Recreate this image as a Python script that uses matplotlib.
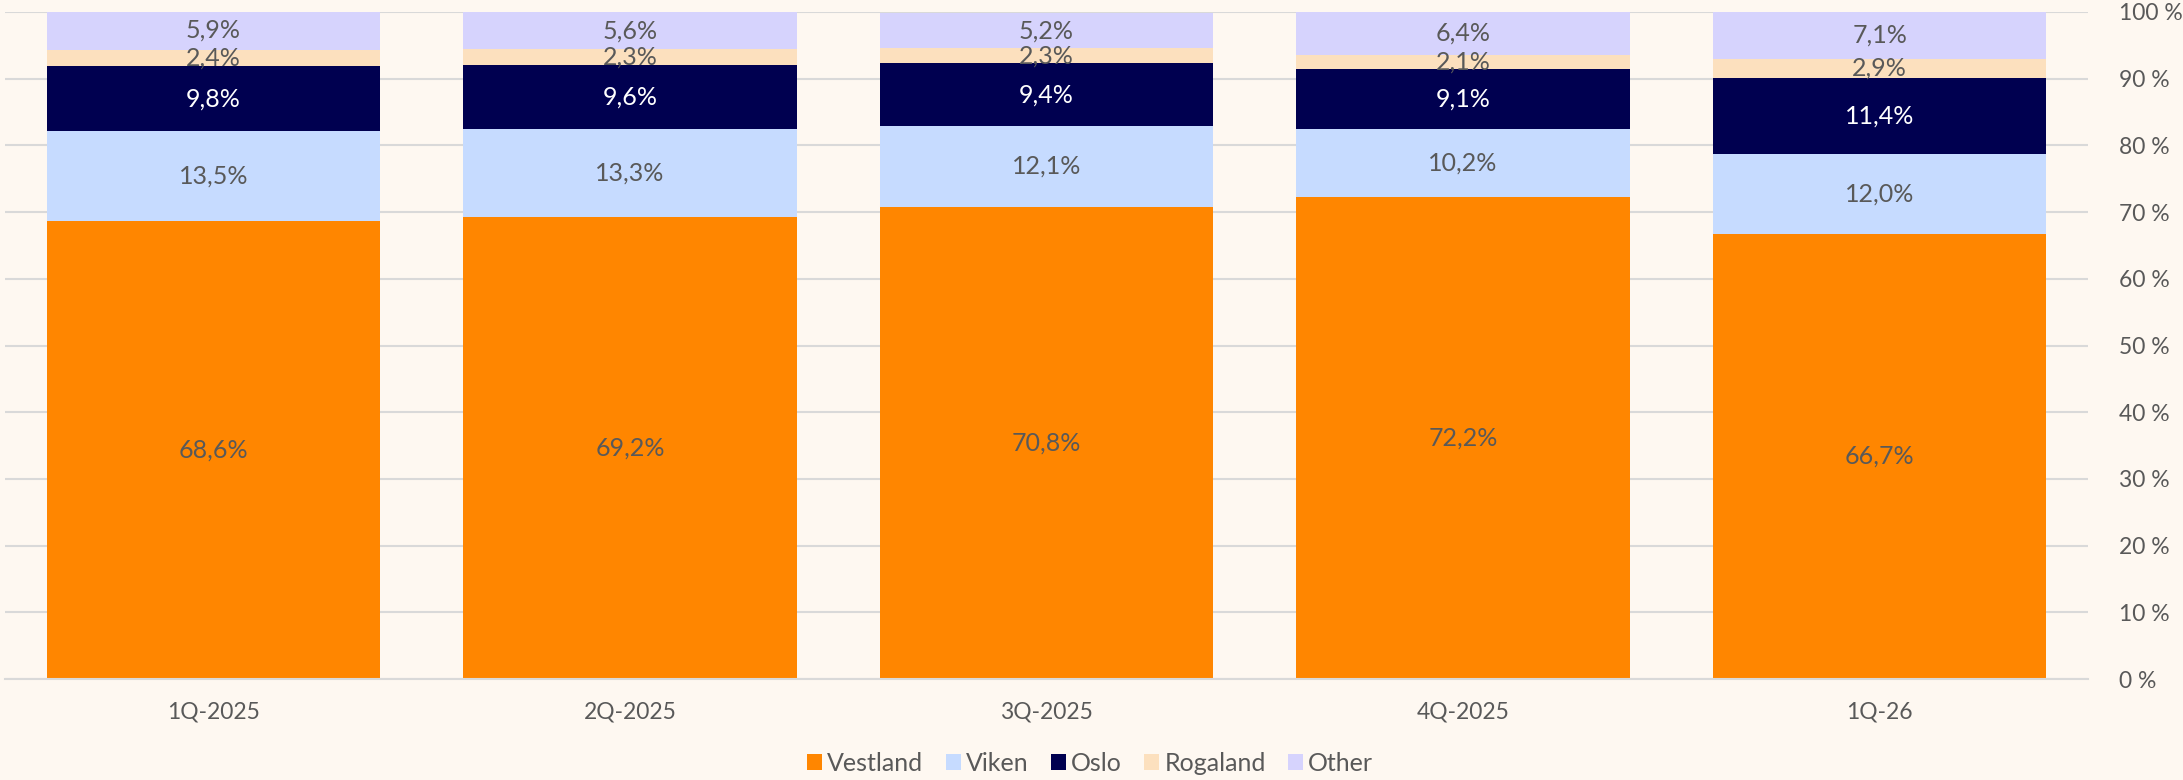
import numpy as np
import matplotlib.pyplot as plt
from matplotlib.ticker import FuncFormatter

plt.rcParams['font.family'] = ['Lato', 'DejaVu Sans']

# data
quarters = ["1Q-2025", "2Q-2025", "3Q-2025", "4Q-2025", "1Q-26"]
vestland = [68.6, 69.2, 70.8, 72.2, 66.7]
viken = [13.5, 13.3, 12.1, 10.2, 12.0]
oslo = [9.8, 9.6, 9.4, 9.1, 11.4]
rogaland = [2.4, 2.3, 2.3, 2.1, 2.9]
other = [5.9, 5.6, 5.2, 6.4, 7.1]

series = [
    ("Vestland", vestland, "#FF8600", "#595959"),
    ("Viken", viken, "#C6DBFF", "#595959"),
    ("Oslo", oslo, "#000050", "#FFFFFF"),
    ("Rogaland", rogaland, "#FCE0BE", "#595959"),
    ("Other", other, "#D6D3FD", "#595959"),
]

bg = "#FEF8F1"
fig = plt.figure(figsize=(21.83, 7.8), dpi=100, facecolor=bg)
ax = fig.add_axes([5 / 2183, 1 - 679 / 780, 2083 / 2183, 667 / 780])
ax.set_facecolor(bg)

x = np.arange(len(quarters))
bottom = np.zeros(len(quarters))
for name, vals, color, tcol in series:
    vals = np.array(vals)
    ax.bar(x, vals, width=0.8, bottom=bottom, color=color, label=name, zorder=2)
    for xi, b, v in zip(x, bottom, vals):
        ax.text(xi, b + v / 2, f"{v:.1f}%".replace(".", ","), ha="center", va="center",
                fontsize=18, color=tcol, zorder=3)
    bottom += vals

ax.set_xlim(-0.5, len(quarters) - 0.5)
ax.set_ylim(0, 100)
ax.set_yticks(np.arange(0, 101, 10))
ax.yaxis.set_major_formatter(FuncFormatter(lambda v, p: f"{int(v)} %"))
ax.yaxis.tick_right()
ax.grid(axis="y", color="#D9D9D9", linewidth=1.5, zorder=0)
ax.set_axisbelow(True)
for s in ["top", "left", "right"]:
    ax.spines[s].set_visible(False)
ax.spines["bottom"].set_color("#D9D9D9")
ax.spines["bottom"].set_linewidth(1.5)
ax.tick_params(axis="y", length=0, pad=22, labelsize=16.5, labelcolor="#595959")
ax.tick_params(axis="x", length=0, pad=16, labelsize=16.5, labelcolor="#595959")
ax.set_xticks(x)
ax.set_xticklabels(quarters)

ax.legend(loc="center", bbox_to_anchor=(0.521, -0.126), ncol=5, frameon=False,
          fontsize=18, labelcolor="#595959", handlelength=0.6, handleheight=0.6,
          handletextpad=0.2, columnspacing=0.9)

fig.savefig("out.png", dpi=100, facecolor=bg)
